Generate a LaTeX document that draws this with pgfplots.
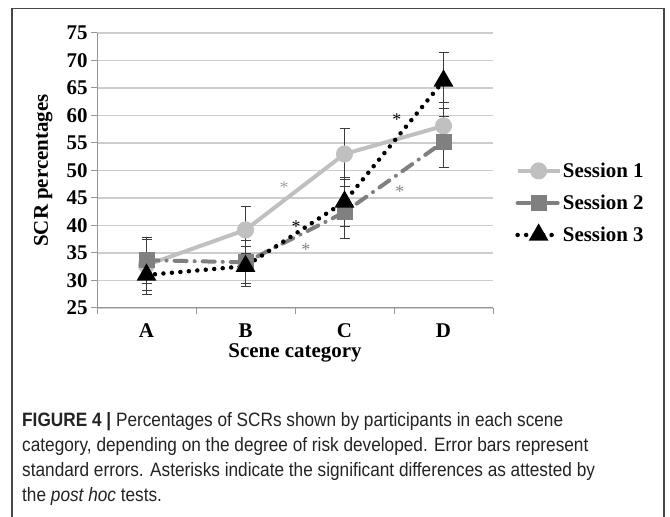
\documentclass[border=0pt]{standalone}
\usepackage{fontspec}
\setmainfont{Liberation Serif}
\newfontfamily\capfont{Liberation Sans}[FakeStretch=0.89]
\usepackage{pgfplots}
\pgfplotsset{compat=1.18}
\definecolor{sone}{RGB}{192,192,192}
\definecolor{stwo}{RGB}{128,128,128}
\definecolor{gridc}{RGB}{205,205,205}
\definecolor{axc}{RGB}{150,150,150}
\definecolor{errc}{RGB}{60,60,60}
\definecolor{capc}{RGB}{35,35,35}
\definecolor{framec}{RGB}{70,70,70}
\newsavebox\capbox
\begin{document}
\sbox\capbox{\capfont\fontsize{16}{19}\selectfont\textbf{FIGURE 4 |} Percentages of SCRs shown by participants in each scene}%
\pgfmathsetmacro\capscale{543.0/\wd\capbox}%
\begin{tikzpicture}[x=1bp,y=1bp]
\useasboundingbox (0,0) rectangle (670,517);
\draw[line width=1.5bp, framec] (12,-5) -- (12,508.5) -- (664,508.5) -- (664,-5);
\begin{axis}[
  at={(97bp,209bp)}, anchor=south west,
  scale only axis, width=396bp, height=275bp,
  xmin=-0.5, xmax=3.5, ymin=25, ymax=75,
  ytick={25,30,...,75},
  xtick={-0.5,0.5,1.5,2.5,3.5}, xticklabels={},
  extra x ticks={0,1,2,3}, extra x tick labels={A,B,C,D},
  extra x tick style={major tick length=0pt, grid=none, xticklabel style={yshift=-12bp}},
  ymajorgrids, major grid style={gridc, line width=1.2bp},
  axis x line*=bottom, axis y line*=left,
  axis line style={-, axc, line width=1bp},
  tick align=outside, major tick length=6bp,
  tick style={axc, line width=1bp},
  /pgf/number format/assume math mode=true,
  ticklabel style={font=\bfseries\fontsize{21}{24}\selectfont},
  xlabel={Scene category}, ylabel={SCR percentages},
  label style={font=\bfseries\fontsize{21}{24}\selectfont},
  xlabel style={at={(axis description cs:0.5,-0.164)}, anchor=center},
  ylabel style={at={(axis description cs:-0.136,0.5)}, anchor=center},
  legend style={at={(axis description cs:1.056,0.382)}, anchor=west, draw=none, fill=none,
    font=\bfseries\fontsize{21}{24}\selectfont, row sep=14bp, inner sep=0pt,
    nodes={inner sep=1bp}},
  legend cell align=left,
  legend image code/.code={\draw[mark repeat=2,mark phase=2] plot coordinates {(0bp,0bp)(21bp,0bp)(42bp,0bp)};},
]
\addplot[sone, line width=4bp, mark=*, mark size=6.5bp, mark options={solid, fill=sone, draw=sone},
  error bars/.cd, y dir=both, y explicit,
  error bar style={errc, line width=0.8bp, solid},
  error mark options={rotate=90, errc, mark size=5bp, line width=0.8bp, solid}]
  coordinates {(0,32.8) +- (0,4.6) (1,39.2) +- (0,4.2) (2,53.0) +- (0,4.7) (3,58.1) +- (0,4.2)};
\addlegendentry{Session 1}
\addplot[stwo, line width=4bp, line cap=round, dash pattern=on 12bp off 8bp on 0.1bp off 8bp,
  mark=square*, mark size=6bp, mark options={solid, fill=stwo, draw=stwo},
  error bars/.cd, y dir=both, y explicit,
  error bar style={errc, line width=0.8bp, solid},
  error mark options={rotate=90, errc, mark size=5bp, line width=0.8bp, solid}]
  coordinates {(0,33.7) +- (0,4.2) (1,33.3) +- (0,3.9) (2,42.4) +- (0,4.7) (3,55.2) +- (0,4.7)};
\addlegendentry{Session 2}
\addplot[black, line width=4.5bp, line cap=round, dash pattern=on 0bp off 8.5bp,
  mark=triangle*, mark size=7bp, mark options={solid, fill=black, draw=black},
  error bars/.cd, y dir=both, y explicit,
  error bar style={errc, line width=0.8bp, solid},
  error mark options={rotate=90, errc, mark size=5bp, line width=0.8bp, solid}]
  coordinates {(0,31.0) +- (0,3.5) (1,32.6) +- (0,3.6) (2,44.3) +- (0,4.5) (3,66.3) +- (0,5.1)};
\addlegendentry{Session 3}
\node[font=\fontsize{18}{20}\selectfont, text=sone!85!black] at (axis cs:1.39,46.9) {*};
\node[font=\fontsize{18}{20}\selectfont, text=black] at (axis cs:1.51,39.8) {*};
\node[font=\fontsize{18}{20}\selectfont, text=stwo] at (axis cs:1.61,35.7) {*};
\node[font=\fontsize{18}{20}\selectfont, text=black] at (axis cs:2.53,59.3) {*};
\node[font=\fontsize{18}{20}\selectfont, text=stwo] at (axis cs:2.56,46.2) {*};
\end{axis}
\begin{scope}[every node/.style={anchor=base west, inner sep=0pt, text=capc, font=\capfont\fontsize{16}{19}\selectfont}]
\node at (22,90.5) {\scalebox{\capscale}{\textbf{FIGURE 4 |} Percentages of SCRs shown by participants in each scene}};
\node at (22,65.5) {\scalebox{\capscale}{category, depending on the degree of risk developed. Error bars represent}};
\node at (22,40.5) {\scalebox{\capscale}{standard errors. Asterisks indicate the significant differences as attested by}};
\node at (22,15.5) {\scalebox{\capscale}{the \textit{post hoc} tests.}};
\end{scope}
\end{tikzpicture}
\end{document}
